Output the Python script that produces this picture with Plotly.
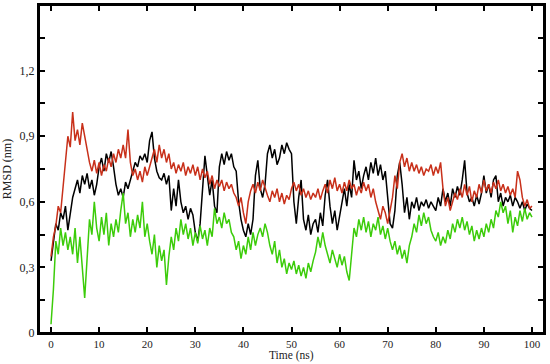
import plotly.graph_objects as go

# tempo (ns), passo de 0.5
time_ns = [i * 0.5 for i in range(201)]

rmsd_black = [
    0.33, 0.42, 0.50, 0.47, 0.55, 0.52, 0.58, 0.47, 0.55, 0.62,
    0.66, 0.70, 0.64, 0.72, 0.68, 0.73, 0.66, 0.70, 0.63, 0.68,
    0.76, 0.80, 0.74, 0.82, 0.78, 0.83, 0.76, 0.68, 0.63, 0.66,
    0.62, 0.69, 0.66, 0.70, 0.74, 0.78, 0.76, 0.81, 0.79, 0.82,
    0.78, 0.88, 0.92, 0.80, 0.74, 0.71, 0.70, 0.73, 0.68, 0.72,
    0.56, 0.66, 0.58, 0.70, 0.60, 0.55, 0.58, 0.52, 0.57, 0.54,
    0.46, 0.42, 0.50, 0.66, 0.81, 0.72, 0.63, 0.70, 0.58, 0.55,
    0.76, 0.82, 0.77, 0.83, 0.79, 0.82, 0.76, 0.74, 0.60, 0.52,
    0.47, 0.44, 0.50, 0.45, 0.52, 0.72, 0.79, 0.66, 0.62, 0.68,
    0.82, 0.86, 0.80, 0.84, 0.77, 0.80, 0.86, 0.82, 0.87, 0.84,
    0.82, 0.60, 0.50, 0.62, 0.70, 0.52, 0.47, 0.54, 0.45, 0.50,
    0.52, 0.46, 0.55, 0.49, 0.63, 0.70, 0.58, 0.50, 0.56, 0.47,
    0.54, 0.60, 0.66, 0.58, 0.68, 0.62, 0.79, 0.70, 0.74, 0.66,
    0.72, 0.76, 0.70, 0.78, 0.73, 0.80, 0.72, 0.77, 0.70, 0.74,
    0.62, 0.50, 0.48, 0.56, 0.72, 0.78, 0.68, 0.55, 0.62, 0.52,
    0.60, 0.57, 0.62, 0.56, 0.60, 0.58, 0.61, 0.57, 0.60, 0.58,
    0.56, 0.62, 0.58, 0.66, 0.60, 0.64, 0.58, 0.66, 0.62, 0.67,
    0.63, 0.70, 0.79, 0.64, 0.60, 0.62, 0.58, 0.63, 0.59, 0.64,
    0.72, 0.64, 0.68, 0.62, 0.70, 0.72, 0.60, 0.64, 0.58, 0.62,
    0.60, 0.63, 0.58, 0.62, 0.60, 0.57, 0.60, 0.56, 0.59, 0.57,
    0.56,
]

rmsd_red = [
    0.35, 0.44, 0.49, 0.58, 0.55, 0.66, 0.80, 0.90, 0.85, 1.01,
    0.88, 0.93, 0.86, 0.96, 0.90, 0.84, 0.78, 0.74, 0.79, 0.73,
    0.78, 0.72, 0.77, 0.74, 0.80, 0.76, 0.82, 0.78, 0.84, 0.80,
    0.86, 0.80, 0.93, 0.78, 0.72, 0.75, 0.70, 0.74, 0.69, 0.76,
    0.72, 0.76, 0.80, 0.84, 0.78, 0.86, 0.80, 0.84, 0.78, 0.82,
    0.75, 0.78, 0.73, 0.77, 0.74, 0.78, 0.72, 0.76, 0.73, 0.77,
    0.72, 0.76, 0.70, 0.75, 0.71, 0.74, 0.68, 0.72, 0.66, 0.70,
    0.67, 0.70, 0.65, 0.69, 0.66, 0.68, 0.64, 0.62, 0.58, 0.62,
    0.55, 0.50, 0.60, 0.65, 0.68, 0.64, 0.69, 0.65, 0.70, 0.66,
    0.63, 0.60, 0.65, 0.62, 0.66, 0.60, 0.64, 0.59, 0.63, 0.61,
    0.66, 0.69, 0.65, 0.68, 0.63, 0.66, 0.62, 0.65, 0.61, 0.64,
    0.62, 0.66, 0.61, 0.65, 0.68, 0.64, 0.70, 0.66, 0.71, 0.65,
    0.68, 0.64, 0.69, 0.65, 0.70, 0.66, 0.68, 0.63, 0.67, 0.64,
    0.69, 0.65, 0.68, 0.62, 0.66, 0.60, 0.56, 0.52, 0.58, 0.55,
    0.50, 0.56, 0.62, 0.72, 0.66, 0.78, 0.82, 0.76, 0.80, 0.74,
    0.78, 0.74, 0.77, 0.73, 0.76, 0.72, 0.75, 0.74, 0.77, 0.72,
    0.76, 0.73, 0.78, 0.66, 0.58, 0.62, 0.56, 0.60, 0.64, 0.61,
    0.66, 0.62, 0.68, 0.63, 0.67, 0.60, 0.65, 0.62, 0.68, 0.64,
    0.70, 0.65, 0.68, 0.64, 0.69, 0.66, 0.70, 0.65, 0.68, 0.64,
    0.67, 0.63, 0.66, 0.62, 0.74, 0.70, 0.62, 0.58, 0.61, 0.57,
    0.58,
]

rmsd_green = [
    0.04, 0.20, 0.42, 0.36, 0.48, 0.40, 0.46, 0.38, 0.44, 0.36,
    0.48, 0.32, 0.44, 0.30, 0.16, 0.34, 0.52, 0.45, 0.60, 0.48,
    0.42, 0.53, 0.45, 0.55, 0.40, 0.50, 0.44, 0.52, 0.46, 0.56,
    0.64, 0.50, 0.55, 0.44, 0.52, 0.46, 0.54, 0.48, 0.60, 0.44,
    0.50, 0.42, 0.36, 0.45, 0.30, 0.40, 0.33, 0.38, 0.22, 0.35,
    0.44, 0.38, 0.48, 0.42, 0.52, 0.45, 0.50, 0.43, 0.48, 0.40,
    0.46, 0.41, 0.49, 0.43, 0.47, 0.40, 0.48, 0.44, 0.57, 0.50,
    0.53, 0.48, 0.55, 0.50, 0.52, 0.46, 0.44, 0.38, 0.42, 0.34,
    0.40, 0.36, 0.44, 0.38, 0.46, 0.40, 0.45, 0.48, 0.44, 0.50,
    0.46, 0.40, 0.36, 0.42, 0.32, 0.38, 0.30, 0.34, 0.27, 0.32,
    0.29, 0.33, 0.27, 0.31, 0.26, 0.30, 0.25, 0.32, 0.28, 0.33,
    0.37, 0.44, 0.39, 0.46, 0.40, 0.36, 0.32, 0.38, 0.34, 0.30,
    0.36, 0.31, 0.35, 0.28, 0.24, 0.38, 0.48, 0.44, 0.52, 0.47,
    0.53, 0.46, 0.51, 0.44, 0.50, 0.47, 0.53, 0.45, 0.49, 0.43,
    0.48, 0.42, 0.38, 0.42, 0.36, 0.40, 0.34, 0.38, 0.32, 0.40,
    0.44, 0.50, 0.46, 0.54, 0.49, 0.55, 0.50, 0.53, 0.47, 0.44,
    0.42, 0.46, 0.40, 0.44, 0.41, 0.47, 0.43, 0.50, 0.46, 0.52,
    0.48, 0.53, 0.47, 0.51, 0.45, 0.49, 0.42, 0.47, 0.43, 0.48,
    0.44, 0.50, 0.46, 0.52, 0.48, 0.56, 0.53, 0.60, 0.55, 0.58,
    0.50, 0.56, 0.46, 0.53, 0.49, 0.56, 0.51, 0.57, 0.52, 0.55,
    0.53,
]

x_ticks = [0, 10, 20, 30, 40, 50, 60, 70, 80, 90, 100]
y_ticks = [0, 0.15, 0.3, 0.45, 0.6, 0.75, 0.9, 1.05, 1.2, 1.35]
y_labels = ['0', '', '0,3', '', '0,6', '', '0,9', '', '1,2', '']

fig = go.Figure()
fig.add_trace(go.Scatter(x=time_ns, y=rmsd_black, mode='lines',
                         line=dict(color='black', width=1.5)))
fig.add_trace(go.Scatter(x=time_ns, y=rmsd_red, mode='lines',
                         line=dict(color='#c8301a', width=1.5)))
fig.add_trace(go.Scatter(x=time_ns, y=rmsd_green, mode='lines',
                         line=dict(color='#3ccc0a', width=1.5)))

fonte = dict(family='Times New Roman, Liberation Serif, serif', size=12, color='#222')

fig.update_layout(
    width=550, height=364,
    margin=dict(l=39, r=6, t=3, b=31),
    paper_bgcolor='white', plot_bgcolor='white',
    showlegend=False,
    font=fonte,
)
# moldura
fig.add_shape(type='rect', xref='paper', yref='paper', x0=0, y0=0, x1=1, y1=1,
              line=dict(color='black', width=2), layer='above')
# titulo do eixo x como anotacao (fica colado aos rotulos)
fig.add_annotation(text='Time (ns)', xref='paper', yref='paper', x=0.5, y=0,
                   xanchor='center', yanchor='top', yshift=-15, borderpad=0,
                   showarrow=False, font=dict(size=11.5))
fig.update_xaxes(range=[-2.5, 102.5], tickvals=x_ticks,
                 ticks='inside', ticklen=6, tickwidth=2, tickcolor='black',
                 showline=True, linewidth=2, linecolor='black', mirror='allticks',
                 showgrid=False, zeroline=False, tickfont=dict(size=11))
fig.update_yaxes(range=[0, 1.5], tickvals=y_ticks, ticktext=y_labels,
                 ticks='inside', ticklen=6, tickwidth=2, tickcolor='black',
                 showline=True, linewidth=2, linecolor='black', mirror='allticks',
                 showgrid=False, zeroline=False,
                 title=dict(text='RMSD (nm)', standoff=6, font=fonte))

fig.write_html("out.html", config={'displayModeBar': False},
               post_script="document.body.style.margin='0';")
